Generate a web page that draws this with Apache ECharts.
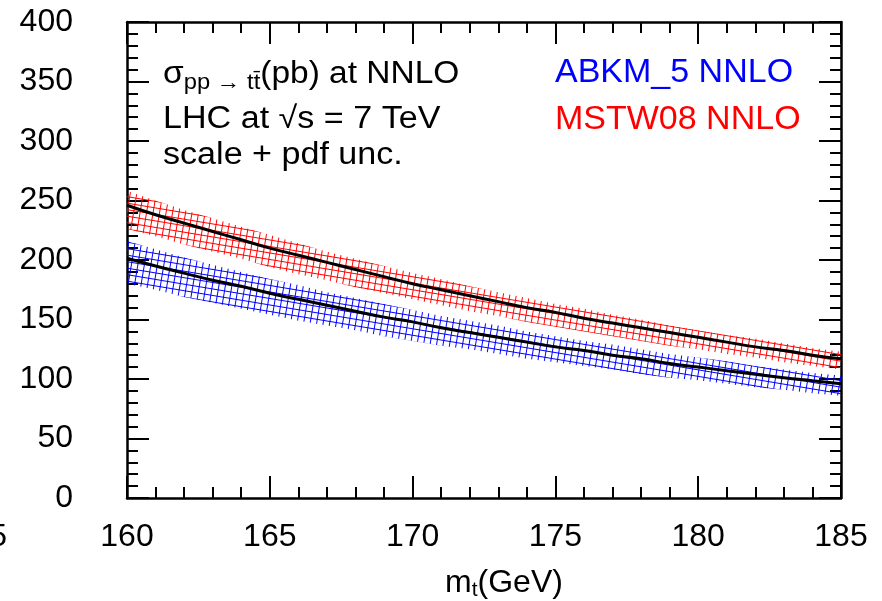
<!DOCTYPE html>
<html>
<head>
<meta charset="utf-8">
<script src="https://cdn.jsdelivr.net/npm/echarts@6/dist/echarts.min.js"></script>
<style>
  html, body { margin: 0; padding: 0; background: #fff; }
  #chart { width: 882px; height: 601px; }
</style>
</head>
<body>
<div id="chart"></div>
<script>
// top mass points (GeV)
var masses = [160, 161, 162, 163, 164, 165, 166, 167, 168, 169, 170, 171, 172,
              173, 174, 175, 176, 177, 178, 179, 180, 181, 182, 183, 184, 185];

// MSTW08 NNLO (pb): central, band upper, band lower
var mstwCentral = [246, 238, 231, 224, 217, 210, 204, 198, 192, 186, 180, 175, 170,
                   165, 160, 156, 151, 147, 143, 139, 135, 131, 127, 124, 120, 117];
var mstwUpper = [258, 250, 242, 235, 228, 221, 214, 207, 201, 195, 189, 184, 178,
                 173, 168, 163, 159, 154, 150, 145, 141, 137, 134, 130, 126, 123];
var mstwLower = [226, 220, 213, 207, 201, 194, 188, 183, 177, 172, 167, 162, 157,
                 153, 148, 144, 140, 136, 132, 128, 125, 121, 118, 114, 111, 108];

// ABKM_5 NNLO (pb)
var abkmCentral = [201.5, 195, 189, 183, 178, 172, 167, 162, 157, 152, 148, 143, 139,
                   135, 131, 127, 124, 120, 117, 113, 110, 107, 104, 101, 98.5, 96];
var abkmUpper = [216, 209, 202, 196, 190, 184, 179, 173, 168, 163, 158, 153, 149,
                 145, 140, 136, 132, 129, 125, 121, 118, 115, 111, 108, 105, 103];
var abkmLower = [180, 175, 169, 164, 159, 154, 149, 145, 141, 136, 132, 128, 125,
                 121, 117, 114, 111, 108, 104, 101, 99, 96, 93, 91, 88, 86];

// hatch pattern, a slightly tilted grid like ROOT's fill style
function hatch(color) {
  var T = 39, s = 6.5;
  var c = document.createElement('canvas');
  c.width = T; c.height = T;
  var ctx = c.getContext('2d');
  ctx.strokeStyle = color;
  ctx.lineWidth = 1;
  for (var i = 0; i < 6; i++) {
    for (var k = -1; k <= 1; k++) {
      // near-horizontal lines going down to the right
      ctx.beginPath();
      ctx.moveTo(0, i * s + k * T);
      ctx.lineTo(T, i * s + s + k * T);
      ctx.stroke();
      // near-vertical lines leaning right
      ctx.beginPath();
      ctx.moveTo(i * s + k * T, T);
      ctx.lineTo(i * s + s + k * T, 0);
      ctx.stroke();
    }
  }
  return { image: c, repeat: 'repeat' };
}

function pairs(ys) {
  return masses.map(function (m, i) { return [m, ys[i]]; });
}

// uncertainty band as one polygon, upper edge then lower edge back
function band(lower, upper, color) {
  var fill = hatch(color);
  return {
    type: 'custom',
    silent: true,
    data: masses.map(function (m, i) { return [m, lower[i], upper[i]]; }),
    encode: { x: 0, y: [1, 2] },
    renderItem: function (params, api) {
      if (params.dataIndex !== 0) return null;
      var pts = [];
      for (var i = 0; i < masses.length; i++) pts.push(api.coord([masses[i], upper[i]]));
      for (var j = masses.length - 1; j >= 0; j--) pts.push(api.coord([masses[j], lower[j]]));
      return {
        type: 'polygon',
        shape: { points: pts },
        style: { fill: fill, stroke: null }
      };
    }
  };
}

var fontFam = '"Liberation Sans", Arial, sans-serif';

var axisLine = { show: true, onZero: false, lineStyle: { color: '#000', width: 2.5 } };
var tick = { show: true, inside: true, length: 22, lineStyle: { color: '#000', width: 2 } };
var minor = { show: true, splitNumber: 5, length: 11, lineStyle: { color: '#000', width: 2 } };

var chart = echarts.init(document.getElementById('chart'));

chart.setOption({
  animation: false,
  backgroundColor: '#fff',
  grid: { left: 127, right: 41, top: 22, bottom: 103, outerBoundsMode: 'none', containLabel: false },
  xAxis: [
    {
      type: 'value', min: 160, max: 185, interval: 5,
      axisLine: axisLine, axisTick: tick, minorTick: minor,
      splitLine: { show: false },
      axisLabel: { color: '#000', fontSize: 32, fontFamily: fontFam, margin: 23 },
      name: '{m|m}{sub|t}{m|(GeV)}',
      nameLocation: 'middle', nameGap: 68,
      nameTextStyle: {
        padding: [0, 0, 0, 40],
        rich: {
          m: { fontSize: 32, fontFamily: fontFam, color: '#000' },
          sub: { fontSize: 21, fontFamily: fontFam, color: '#000', verticalAlign: 'bottom', padding: [14, 0, 0, 0] }
        }
      }
    },
    {
      type: 'value', position: 'top', min: 160, max: 185, interval: 5,
      axisLine: axisLine, axisTick: tick, minorTick: minor,
      splitLine: { show: false }, axisLabel: { show: false }
    }
  ],
  yAxis: [
    {
      type: 'value', min: 0, max: 400, interval: 50,
      axisLine: axisLine, axisTick: tick, minorTick: minor,
      splitLine: { show: false },
      axisLabel: { color: '#000', fontSize: 32, fontFamily: fontFam, margin: 54 }
    },
    {
      type: 'value', position: 'right', min: 0, max: 400, interval: 50,
      axisLine: axisLine, axisTick: tick, minorTick: minor,
      splitLine: { show: false }, axisLabel: { show: false }
    }
  ],
  series: [
    band(mstwLower, mstwUpper, '#ff0000'),
    band(abkmLower, abkmUpper, '#0000ff'),
    {
      name: 'MSTW08 NNLO', type: 'line', data: pairs(mstwCentral), symbol: 'none',
      smooth: true, z: 5, lineStyle: { color: '#000', width: 3 }
    },
    {
      name: 'ABKM_5 NNLO', type: 'line', data: pairs(abkmCentral), symbol: 'none',
      smooth: true, z: 5, lineStyle: { color: '#000', width: 3 }
    }
  ],
  graphic: [
    {
      type: 'text', x: 163, y: 54, scaleX: 1.08,
      style: {
        text: '{b|σ}{s|pp → tt̄}{b|(pb) at NNLO}',
        rich: {
          b: { fontSize: 31, fontFamily: fontFam, fill: '#000' },
          s: { fontSize: 22, fontFamily: fontFam, fill: '#000', padding: [18, 0, 0, 0] }
        }
      }
    },
    {
      type: 'text', x: 163, y: 104, scaleX: 1.1,
      style: { text: 'LHC at √s = 7 TeV', fontSize: 31, fontFamily: fontFam, fill: '#000' }
    },
    {
      type: 'text', x: 163, y: 140, scaleX: 1.1,
      style: { text: 'scale + pdf unc.', fontSize: 31, fontFamily: fontFam, fill: '#000' }
    },
    {
      type: 'text', x: 555, y: 56,
      style: { text: 'ABKM_5 NNLO', fontSize: 34, fontFamily: fontFam, fill: '#0000ff' }
    },
    {
      type: 'text', x: 555, y: 103,
      style: { text: 'MSTW08 NNLO', fontSize: 34, fontFamily: fontFam, fill: '#ff0000' }
    },
    {
      // cut-off tick label at the left edge of the picture
      type: 'text', right: 875, top: 521,
      style: { text: '185', fontSize: 32, fontFamily: fontFam, fill: '#000' }
    }
  ]
});
</script>
</body>
</html>
